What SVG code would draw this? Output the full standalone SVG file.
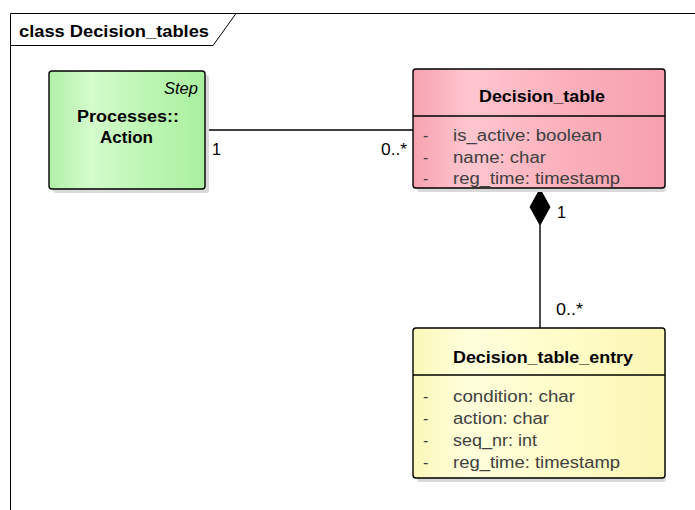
<svg xmlns="http://www.w3.org/2000/svg" width="695" height="510" viewBox="0 0 695 510">
  <defs>
    <linearGradient id="gGreen" x1="0" y1="0" x2="1" y2="0">
      <stop offset="0" stop-color="#b0f0a8"/>
      <stop offset="0.27" stop-color="#d4fccc"/>
      <stop offset="0.6" stop-color="#bdf6b4"/>
      <stop offset="1" stop-color="#aaf0a0"/>
    </linearGradient>
    <linearGradient id="gPink" x1="0" y1="0" x2="1" y2="0">
      <stop offset="0" stop-color="#f6a2b0"/>
      <stop offset="0.22" stop-color="#ffc6d0"/>
      <stop offset="0.6" stop-color="#fbb0bc"/>
      <stop offset="1" stop-color="#f7a0ae"/>
    </linearGradient>
    <linearGradient id="gYellow" x1="0" y1="0" x2="1" y2="0">
      <stop offset="0" stop-color="#fbf8b8"/>
      <stop offset="0.22" stop-color="#fffedc"/>
      <stop offset="0.6" stop-color="#fffcc8"/>
      <stop offset="1" stop-color="#fbf6b4"/>
    </linearGradient>
  </defs>
  <style>
    text { font-family: "Liberation Sans", Arial, sans-serif; font-size: 16px; fill: #000; }
    .frame { fill: none; stroke: #000; stroke-width: 1; }
    .title { font-weight: bold; }
    .box { stroke: #000; stroke-width: 1.4; }
    .shadow { fill: #d9d9d9; }
    .name { font-weight: bold; }
    .stereo { font-style: italic; }
    .attr { fill: #404040; }
    .conn { fill: none; stroke: #000; stroke-width: 1.4; }
  </style>

  <rect width="695" height="510" fill="#fff"/>

  <!-- diagram frame with its name tab -->
  <g id="frame">
    <path class="frame" d="M10.5,510 V13.5 H695"/>
    <path class="frame" d="M10.5,45.5 H213 L236,13.5"/>
    <text class="title" x="19" y="37" textLength="190" lengthAdjust="spacingAndGlyphs">class Decision_tables</text>
  </g>

  <!-- connectors -->
  <g id="connectors">
    <line class="conn" x1="205" y1="130" x2="413" y2="130"/>
    <text x="212" y="155" textLength="9" lengthAdjust="spacingAndGlyphs">1</text>
    <text x="381" y="155" textLength="26" lengthAdjust="spacingAndGlyphs">0..*</text>

    <line class="conn" x1="540" y1="225" x2="540" y2="328"/>
    <polygon points="540,189 550,207 540,225 530,207" fill="#000" stroke="#000" stroke-width="1"/>
    <text x="557" y="218" textLength="9" lengthAdjust="spacingAndGlyphs">1</text>
    <text x="556" y="315" textLength="27" lengthAdjust="spacingAndGlyphs">0..*</text>
  </g>

  <!-- Processes::Action -->
  <g id="action">
    <rect class="shadow" x="53" y="75" width="156" height="118" rx="3"/>
    <rect class="box" x="49" y="71" width="156" height="118" rx="3" fill="url(#gGreen)"/>
    <text class="stereo" x="164" y="94" textLength="34" lengthAdjust="spacingAndGlyphs">Step</text>
    <text class="name" x="77" y="122" textLength="102" lengthAdjust="spacingAndGlyphs">Processes::</text>
    <text class="name" x="100" y="143" textLength="53" lengthAdjust="spacingAndGlyphs">Action</text>
  </g>

  <!-- Decision_table -->
  <g id="decision_table">
    <rect class="shadow" x="417" y="73" width="249" height="119" rx="3"/>
    <rect class="box" x="413" y="69" width="252" height="119" rx="3" fill="url(#gPink)"/>
    <line class="box" x1="413" y1="116" x2="665" y2="116"/>
    <text class="name" x="479" y="102" textLength="126" lengthAdjust="spacingAndGlyphs">Decision_table</text>
    <text class="attr" x="423" y="141">-</text>
    <text class="attr" x="453" y="141" textLength="149" lengthAdjust="spacingAndGlyphs">is_active: boolean</text>
    <text class="attr" x="423" y="163">-</text>
    <text class="attr" x="453" y="163" textLength="93" lengthAdjust="spacingAndGlyphs">name: char</text>
    <text class="attr" x="423" y="184">-</text>
    <text class="attr" x="453" y="184" textLength="167" lengthAdjust="spacingAndGlyphs">reg_time: timestamp</text>
  </g>

  <!-- Decision_table_entry -->
  <g id="decision_table_entry">
    <rect class="shadow" x="417" y="332" width="249" height="150" rx="3"/>
    <rect class="box" x="413" y="328" width="252" height="150" rx="3" fill="url(#gYellow)"/>
    <line class="box" x1="413" y1="375" x2="665" y2="375"/>
    <text class="name" x="453" y="363" textLength="180" lengthAdjust="spacingAndGlyphs">Decision_table_entry</text>
    <text class="attr" x="423" y="402">-</text>
    <text class="attr" x="453" y="402" textLength="122" lengthAdjust="spacingAndGlyphs">condition: char</text>
    <text class="attr" x="423" y="424">-</text>
    <text class="attr" x="453" y="424" textLength="96" lengthAdjust="spacingAndGlyphs">action: char</text>
    <text class="attr" x="423" y="446">-</text>
    <text class="attr" x="453" y="446" textLength="84" lengthAdjust="spacingAndGlyphs">seq_nr: int</text>
    <text class="attr" x="423" y="468">-</text>
    <text class="attr" x="453" y="468" textLength="167" lengthAdjust="spacingAndGlyphs">reg_time: timestamp</text>
  </g>
</svg>
